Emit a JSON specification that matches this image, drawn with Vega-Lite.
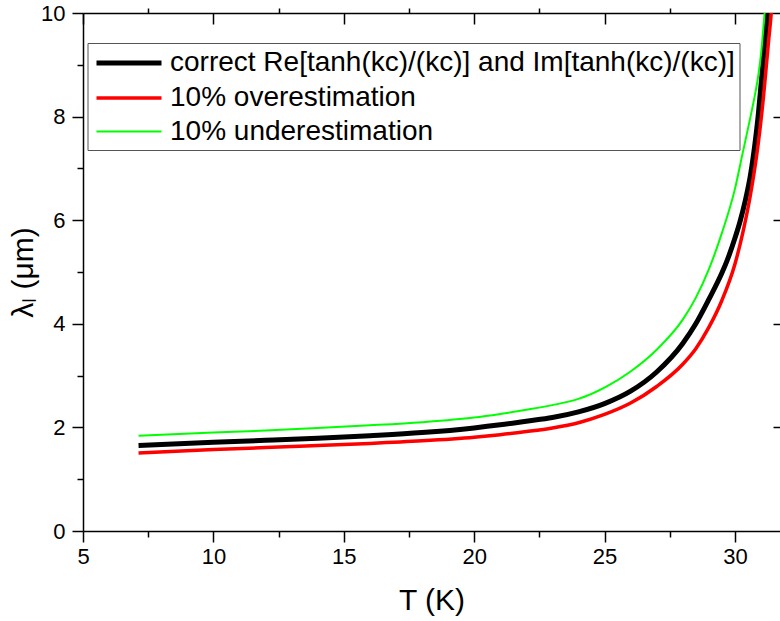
{
  "$schema": "https://vega.github.io/schema/vega-lite/v6.json",
  "autosize": "none",
  "width": 697,
  "height": 518,
  "padding": {"left": 83, "top": 13, "right": 0, "bottom": 90},
  "background": "white",
  "config": {
    "view": {"stroke": null},
    "font": "Liberation Sans",
    "axis": {"grid": false, "domainColor": "black", "tickColor": "black", "labelColor": "black", "titleColor": "black", "domainWidth": 1.5, "tickWidth": 1.5, "labelFont": "Liberation Sans", "titleFont": "Liberation Sans", "titleFontWeight": "normal", "labelFlush": false, "labelOverlap": false},
    "legend": {"strokeColor": "#555555", "strokeWidth": 1}
  },
  "data": {"values": [
    {"series": "correct Re[tanh(kc)/(kc)] and Im[tanh(kc)/(kc)]", "T": 7.13, "lam": 1.65},
    {"series": "correct Re[tanh(kc)/(kc)] and Im[tanh(kc)/(kc)]", "T": 10, "lam": 1.715},
    {"series": "correct Re[tanh(kc)/(kc)] and Im[tanh(kc)/(kc)]", "T": 12, "lam": 1.75},
    {"series": "correct Re[tanh(kc)/(kc)] and Im[tanh(kc)/(kc)]", "T": 14, "lam": 1.79},
    {"series": "correct Re[tanh(kc)/(kc)] and Im[tanh(kc)/(kc)]", "T": 16, "lam": 1.84},
    {"series": "correct Re[tanh(kc)/(kc)] and Im[tanh(kc)/(kc)]", "T": 18, "lam": 1.9},
    {"series": "correct Re[tanh(kc)/(kc)] and Im[tanh(kc)/(kc)]", "T": 20, "lam": 1.99},
    {"series": "correct Re[tanh(kc)/(kc)] and Im[tanh(kc)/(kc)]", "T": 21, "lam": 2.05},
    {"series": "correct Re[tanh(kc)/(kc)] and Im[tanh(kc)/(kc)]", "T": 22, "lam": 2.12},
    {"series": "correct Re[tanh(kc)/(kc)] and Im[tanh(kc)/(kc)]", "T": 23, "lam": 2.19},
    {"series": "correct Re[tanh(kc)/(kc)] and Im[tanh(kc)/(kc)]", "T": 24, "lam": 2.3},
    {"series": "correct Re[tanh(kc)/(kc)] and Im[tanh(kc)/(kc)]", "T": 25, "lam": 2.46},
    {"series": "correct Re[tanh(kc)/(kc)] and Im[tanh(kc)/(kc)]", "T": 26, "lam": 2.7},
    {"series": "correct Re[tanh(kc)/(kc)] and Im[tanh(kc)/(kc)]", "T": 27, "lam": 3.07},
    {"series": "correct Re[tanh(kc)/(kc)] and Im[tanh(kc)/(kc)]", "T": 28, "lam": 3.62},
    {"series": "correct Re[tanh(kc)/(kc)] and Im[tanh(kc)/(kc)]", "T": 28.5, "lam": 4.0},
    {"series": "correct Re[tanh(kc)/(kc)] and Im[tanh(kc)/(kc)]", "T": 29, "lam": 4.47},
    {"series": "correct Re[tanh(kc)/(kc)] and Im[tanh(kc)/(kc)]", "T": 29.5, "lam": 4.98},
    {"series": "correct Re[tanh(kc)/(kc)] and Im[tanh(kc)/(kc)]", "T": 29.7, "lam": 5.22},
    {"series": "correct Re[tanh(kc)/(kc)] and Im[tanh(kc)/(kc)]", "T": 30, "lam": 5.65},
    {"series": "correct Re[tanh(kc)/(kc)] and Im[tanh(kc)/(kc)]", "T": 30.2, "lam": 5.98},
    {"series": "correct Re[tanh(kc)/(kc)] and Im[tanh(kc)/(kc)]", "T": 30.4, "lam": 6.38},
    {"series": "correct Re[tanh(kc)/(kc)] and Im[tanh(kc)/(kc)]", "T": 30.6, "lam": 6.88},
    {"series": "correct Re[tanh(kc)/(kc)] and Im[tanh(kc)/(kc)]", "T": 30.8, "lam": 7.6},
    {"series": "correct Re[tanh(kc)/(kc)] and Im[tanh(kc)/(kc)]", "T": 30.9, "lam": 8.05},
    {"series": "correct Re[tanh(kc)/(kc)] and Im[tanh(kc)/(kc)]", "T": 31.0, "lam": 8.6},
    {"series": "correct Re[tanh(kc)/(kc)] and Im[tanh(kc)/(kc)]", "T": 31.1, "lam": 9.15},
    {"series": "correct Re[tanh(kc)/(kc)] and Im[tanh(kc)/(kc)]", "T": 31.2, "lam": 9.7},
    {"series": "correct Re[tanh(kc)/(kc)] and Im[tanh(kc)/(kc)]", "T": 31.27, "lam": 10.05},
    {"series": "correct Re[tanh(kc)/(kc)] and Im[tanh(kc)/(kc)]", "T": 31.35, "lam": 10.5},
    {"series": "10% overestimation", "T": 7.13, "lam": 1.505},
    {"series": "10% overestimation", "T": 10, "lam": 1.575},
    {"series": "10% overestimation", "T": 12, "lam": 1.61},
    {"series": "10% overestimation", "T": 14, "lam": 1.65},
    {"series": "10% overestimation", "T": 16, "lam": 1.69},
    {"series": "10% overestimation", "T": 18, "lam": 1.74},
    {"series": "10% overestimation", "T": 20, "lam": 1.81},
    {"series": "10% overestimation", "T": 21, "lam": 1.86},
    {"series": "10% overestimation", "T": 22, "lam": 1.92},
    {"series": "10% overestimation", "T": 23, "lam": 1.99},
    {"series": "10% overestimation", "T": 24, "lam": 2.09},
    {"series": "10% overestimation", "T": 25, "lam": 2.25},
    {"series": "10% overestimation", "T": 26, "lam": 2.47},
    {"series": "10% overestimation", "T": 27, "lam": 2.79},
    {"series": "10% overestimation", "T": 28, "lam": 3.22},
    {"series": "10% overestimation", "T": 28.5, "lam": 3.52},
    {"series": "10% overestimation", "T": 29, "lam": 3.93},
    {"series": "10% overestimation", "T": 29.5, "lam": 4.45},
    {"series": "10% overestimation", "T": 30, "lam": 5.15},
    {"series": "10% overestimation", "T": 30.3, "lam": 5.75},
    {"series": "10% overestimation", "T": 30.6, "lam": 6.5},
    {"series": "10% overestimation", "T": 30.9, "lam": 7.5},
    {"series": "10% overestimation", "T": 31.1, "lam": 8.4},
    {"series": "10% overestimation", "T": 31.2, "lam": 8.95},
    {"series": "10% overestimation", "T": 31.3, "lam": 9.5},
    {"series": "10% overestimation", "T": 31.4, "lam": 10.05},
    {"series": "10% overestimation", "T": 31.45, "lam": 10.5},
    {"series": "10% underestimation", "T": 7.13, "lam": 1.84},
    {"series": "10% underestimation", "T": 10, "lam": 1.9},
    {"series": "10% underestimation", "T": 12, "lam": 1.94},
    {"series": "10% underestimation", "T": 14, "lam": 1.99},
    {"series": "10% underestimation", "T": 16, "lam": 2.04},
    {"series": "10% underestimation", "T": 18, "lam": 2.1},
    {"series": "10% underestimation", "T": 20, "lam": 2.19},
    {"series": "10% underestimation", "T": 21, "lam": 2.26},
    {"series": "10% underestimation", "T": 22, "lam": 2.34},
    {"series": "10% underestimation", "T": 23, "lam": 2.43},
    {"series": "10% underestimation", "T": 24, "lam": 2.55},
    {"series": "10% underestimation", "T": 25, "lam": 2.77},
    {"series": "10% underestimation", "T": 26, "lam": 3.08},
    {"series": "10% underestimation", "T": 27, "lam": 3.5},
    {"series": "10% underestimation", "T": 28, "lam": 4.08},
    {"series": "10% underestimation", "T": 28.5, "lam": 4.5},
    {"series": "10% underestimation", "T": 29, "lam": 5.05},
    {"series": "10% underestimation", "T": 29.5, "lam": 5.75},
    {"series": "10% underestimation", "T": 30, "lam": 6.6},
    {"series": "10% underestimation", "T": 30.3, "lam": 7.3},
    {"series": "10% underestimation", "T": 30.6, "lam": 8.0},
    {"series": "10% underestimation", "T": 30.8, "lam": 8.5},
    {"series": "10% underestimation", "T": 30.9, "lam": 8.8},
    {"series": "10% underestimation", "T": 31.0, "lam": 9.2},
    {"series": "10% underestimation", "T": 31.14, "lam": 10.0},
    {"series": "10% underestimation", "T": 31.22, "lam": 10.5}
  ]},
  "resolve": {"axis": {"x": "independent", "y": "independent"}},
  "layer": [
    {
      "mark": {"type": "line", "clip": true, "interpolate": "monotone"},
      "encoding": {
        "x": {"field": "T", "type": "quantitative", "scale": {"domain": [5, 31.73], "nice": false, "zero": false},
          "axis": {"orient": "bottom", "values": [5, 10, 15, 20, 25, 30], "tickSize": 11, "labelFontSize": 22, "labelPadding": 4, "title": "T (K)", "titleFontSize": 30, "titlePadding": 18}},
        "y": {"field": "lam", "type": "quantitative", "scale": {"domain": [0, 10], "nice": false, "zero": false},
          "axis": {"orient": "left", "values": [0, 2, 4, 6, 8, 10], "tickSize": 11, "labelFontSize": 22, "labelPadding": 7, "title": "λₗ (μm)", "titleFontSize": 30, "titlePadding": 2}},
        "color": {"field": "series", "type": "nominal",
          "scale": {"domain": ["correct Re[tanh(kc)/(kc)] and Im[tanh(kc)/(kc)]", "10% overestimation", "10% underestimation"], "range": ["#000000", "#ff0000", "#00ff00"]},
          "legend": {"title": null, "orient": "none", "legendX": 4.5, "legendY": 30, "symbolType": "M-2.5,0H2.5", "symbolSize": 676, "labelFontSize": 28, "labelFont": "Liberation Sans", "labelColor": "black", "labelLimit": 0, "labelOffset": 25.5, "rowPadding": 5.5, "padding": 4.5, "fillColor": "white", "symbolOffset": 21.5}},
        "strokeWidth": {"field": "series", "type": "nominal",
          "scale": {"domain": ["correct Re[tanh(kc)/(kc)] and Im[tanh(kc)/(kc)]", "10% overestimation", "10% underestimation"], "range": [5, 2, 2]},
          "legend": {"title": null, "orient": "none", "legendX": 4.5, "legendY": 30, "symbolType": "M-2.5,0H2.5", "symbolSize": 676, "labelFontSize": 28, "labelFont": "Liberation Sans", "labelColor": "black", "labelLimit": 0, "labelOffset": 25.5, "rowPadding": 5.5, "padding": 4.5, "fillColor": "white", "symbolOffset": 21.5}}
      }
    },
    {
      "mark": {"type": "point", "opacity": 0},
      "encoding": {
        "x": {"field": "T", "type": "quantitative", "scale": {"domain": [5, 31.73], "nice": false, "zero": false},
          "axis": {"orient": "bottom", "values": [7.5, 12.5, 17.5, 22.5, 27.5], "tickSize": 6, "labels": false, "domain": false, "title": null}},
        "y": {"field": "lam", "type": "quantitative", "scale": {"domain": [0, 10], "nice": false, "zero": false},
          "axis": {"orient": "left", "values": [1, 3, 5, 7, 9], "tickSize": 6, "labels": false, "domain": false, "title": null}}
      }
    },
    {
      "mark": {"type": "point", "opacity": 0},
      "encoding": {
        "x": {"field": "T", "type": "quantitative", "scale": {"domain": [5, 31.73], "nice": false, "zero": false},
          "axis": {"orient": "top", "values": [5, 10, 15, 20, 25, 30], "tickSize": -11, "labels": false, "domain": true, "title": null}},
        "y": {"field": "lam", "type": "quantitative", "scale": {"domain": [0, 10], "nice": false, "zero": false},
          "axis": {"orient": "right", "values": [2, 4, 6, 8], "tickSize": -7, "labels": false, "domain": false, "title": null}}
      }
    },
    {
      "mark": {"type": "point", "opacity": 0},
      "encoding": {
        "x": {"field": "T", "type": "quantitative", "scale": {"domain": [5, 31.73], "nice": false, "zero": false},
          "axis": {"orient": "top", "values": [7.5, 12.5, 17.5, 22.5, 27.5], "tickSize": 5, "labels": false, "domain": false, "title": null}},
        "y": {"field": "lam", "type": "quantitative", "scale": {"domain": [0, 10], "nice": false, "zero": false}, "axis": null}
      }
    }
  ]
}
